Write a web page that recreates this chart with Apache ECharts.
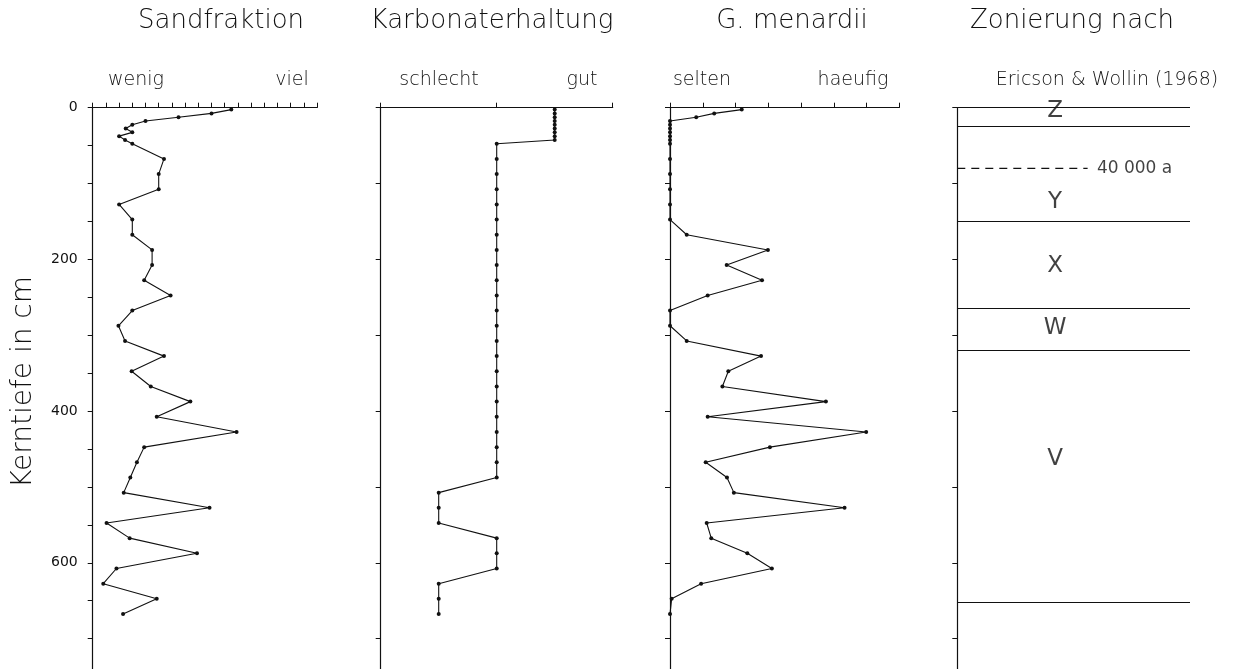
<!DOCTYPE html>
<html><head><meta charset="utf-8">
<script src="https://cdn.jsdelivr.net/npm/echarts@6/dist/echarts.min.js"></script>
<style>html,body{margin:0;padding:0;background:#fff}#c{width:1260px;height:669px}</style>
</head><body><div id="c"></div>
<script>
// depth of each sample (cm)
const depths = [2.5,7.5,12.5,17.5,22.5,27.5,32.5,37.5,42.5,47.5,
  67.5,87.5,107.5,127.5,147.5,167.5,187.5,207.5,227.5,247.5,
  267.5,287.5,307.5,327.5,347.5,367.5,387.5,407.5,427.5,447.5,
  467.5,487.5,507.5,527.5,547.5,567.5,587.5,607.5,627.5,647.5,667.5];
// Sandfraktion (scale units, wenig -> viel)
const sand = [10.5,9.0,6.5,4.0,3.0,2.5,3.0,2.0,2.45,3.0,
  5.4,5.0,5.0,2.0,3.0,3.0,4.5,4.5,3.9,5.9,
  3.0,1.95,2.45,5.4,2.95,4.4,7.4,4.85,10.9,3.9,
  3.35,2.85,2.35,8.85,1.05,2.8,7.9,1.8,0.8,4.85,2.3];
// Karbonaterhaltung (schlecht -> gut)
const carb = [1.5,1.5,1.5,1.5,1.5,1.5,1.5,1.5,1.5,1.0,
  1,1,1,1,1,1,1,1,1,1,
  1,1,1,1,1,1,1,1,1,1,
  1,1,0.5,0.5,0.5,1,1,1,0.5,0.5,0.5];
// G. menardii (selten -> haeufig)
const menardii = [2.19,1.35,0.80,0,0,0,0,0,0,0,
  0,0,0,0,0,0.51,2.99,1.73,2.81,1.15,
  0,0,0.51,2.78,1.78,1.60,4.76,1.15,5.99,3.05,
  1.09,1.74,1.95,5.33,1.12,1.26,2.36,3.11,0.95,0.05,0];
// Zonierung nach Ericson & Wollin (1968)
const zoneBounds = [0,25,150,265,320,652];
const zoneNames = ['Z','Y','X','W','V'];
const zoneLabelDepths = [5,124,209,290,463];
const ageLineDepth = 80;
const ageLabel = '40 000 a';
const depthTickLabels = [0,200,400,600];

const panelTitles = ['Sandfraktion','Karbonaterhaltung','G. menardii','Zonierung nach'];
const leftLabels = ['wenig','schlecht','selten','Ericson & Wollin (1968)'];
const rightLabels = ['viel','gut','haeufig',''];

const FONT = 'DejaVu Sans';
const INK = '#111';
const TOP = 107.7, PXCM = 0.7605, YMAX = 740;
const H = YMAX * PXCM;

const grids = [
  {left: 92.7, top: TOP, width: 17*13.2, height: H},
  {left: 380.7, top: TOP, width: 232, height: H},
  {left: 670, top: TOP, width: 7*32.75, height: H},
  {left: 957.3, top: TOP, width: 232.7, height: H}
];
const xMax = [17, 2, 7, 1];

function yAx(i, step, labels) {
  return {
    gridIndex: i, type: 'value', inverse: true, min: 0, max: YMAX, interval: step,
    axisLine: {show: true, lineStyle: {color: INK, width: 1.2}},
    axisTick: {show: true, inside: false, length: 5, lineStyle: {color: INK, width: 1}},
    axisLabel: {show: labels, margin: 15, color: INK, fontFamily: FONT, fontSize: 14,
      formatter: v => depthTickLabels.includes(v) ? String(v) : ''},
    splitLine: {show: false}
  };
}
function xAx(i) {
  return {
    gridIndex: i, type: 'value', position: 'top', min: 0, max: xMax[i], interval: 1,
    axisLine: {show: i < 3, onZero: false, lineStyle: {color: INK, width: 1.2}},
    axisTick: {show: i < 3, inside: false, length: 5, lineStyle: {color: INK, width: 1}},
    axisLabel: {show: false}, splitLine: {show: false}
  };
}
function pairs(vals) { return vals.map((v, k) => [v, depths[k]]); }
function profile(i, vals) {
  return {
    type: 'line', xAxisIndex: i, yAxisIndex: i, data: pairs(vals),
    symbol: 'circle', symbolSize: 4, showSymbol: true,
    lineStyle: {color: INK, width: 1.1}, itemStyle: {color: INK},
    silent: true, animation: false
  };
}

const texts = [];
const titleX = [221, 492, 792, 1072];
const leftX = [136, 439, 702, 1107];
const rightX = [292, 582, 853, 0];
const leftSize = [19, 19, 19, 19];
for (let i = 0; i < 4; i++) {
  texts.push({type: 'text', x: titleX[i], y: 21, style: {text: panelTitles[i], fill: INK,
    font: '300 26px "' + FONT + '"', align: 'center', verticalAlign: 'middle'}});
  texts.push({type: 'text', x: leftX[i], y: 80, style: {text: leftLabels[i], fill: INK,
    font: '300 ' + leftSize[i] + 'px "' + FONT + '"', align: 'center', verticalAlign: 'middle'}});
  if (rightLabels[i]) texts.push({type: 'text', x: rightX[i], y: 80, style: {text: rightLabels[i], fill: INK,
    font: '300 19px "' + FONT + '"', align: 'center', verticalAlign: 'middle'}});
}
texts.push({type: 'text', x: 24, y: 382, rotation: Math.PI / 2, style: {text: 'Kerntiefe in cm', fill: INK,
  font: '300 28px "' + FONT + '"', align: 'center', verticalAlign: 'middle'}});

const option = {
  animation: false,
  backgroundColor: '#fff',
  grid: grids,
  xAxis: [0,1,2,3].map(xAx),
  yAxis: [yAx(0, 50, true), yAx(1, 100, false), yAx(2, 100, false), yAx(3, 100, false)],
  graphic: texts,
  series: [
    profile(0, sand),
    profile(1, carb),
    profile(2, menardii),
    {
      type: 'line', xAxisIndex: 3, yAxisIndex: 3, data: [], silent: true,
      markLine: {
        symbol: ['none','none'], silent: true, animation: false,
        label: {show: false},
        lineStyle: {color: INK, width: 1.2, type: 'solid'},
        data: zoneBounds.map(d => ({yAxis: d}))
      }
    },
    {
      type: 'line', xAxisIndex: 3, yAxisIndex: 3, symbol: 'none', silent: true,
      data: [[0, ageLineDepth], [0.56, ageLineDepth]],
      lineStyle: {color: INK, width: 1.1, type: [8, 6]}
    },
    {
      type: 'scatter', xAxisIndex: 3, yAxisIndex: 3, symbolSize: 0, silent: true,
      data: [[0.6, ageLineDepth]],
      label: {show: true, position: 'right', distance: 0, formatter: ageLabel,
        color: INK, fontFamily: FONT, fontSize: 17, fontWeight: 'normal'}
    },
    {
      type: 'scatter', xAxisIndex: 3, yAxisIndex: 3, symbolSize: 0, silent: true,
      data: zoneNames.map((n, k) => ({value: [0.42, zoneLabelDepths[k]], name: n})),
      label: {show: true, position: 'inside', formatter: p => p.name,
        color: INK, fontFamily: FONT, fontSize: 23, fontWeight: 'normal'}
    }
  ]
};
const chart = echarts.init(document.getElementById('c'), null, {renderer: 'canvas'});
chart.setOption(option);
</script>
</body></html>
